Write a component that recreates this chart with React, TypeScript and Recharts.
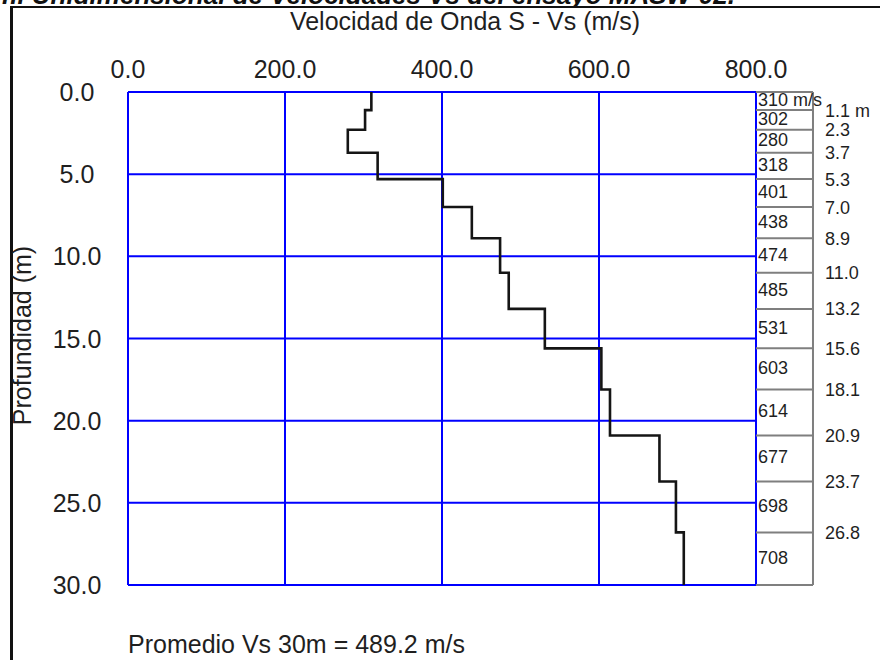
import {
  CartesianGrid,
  Label,
  ReferenceDot,
  ReferenceLine,
  Scatter,
  ScatterChart,
  XAxis,
  YAxis,
} from "recharts";

const velocityTicks = [0, 200, 400, 600, 800];
const depthTicks = [0, 5, 10, 15, 20, 25, 30];

// Vs of each layer (m/s) and depth of its base (m)
const layerVs = [310, 302, 280, 318, 401, 438, 474, 485, 531, 603, 614, 677, 698, 708];
const layerBottoms = [1.1, 2.3, 3.7, 5.3, 7.0, 8.9, 11.0, 13.2, 15.6, 18.1, 20.9, 23.7, 26.8, 30.0];
const averageVs30 = 489.2;

const FONT = '"Liberation Sans", Arial, sans-serif';
const TEXT = "#1f1f1f";
const GRID_BLUE = "#0000ff";
const BOX_GRAY = "#7f7f7f";
// right edge of the layer table, in velocity units (table sits right of 800)
const COL_RIGHT = 872.6;

const layerTops = layerVs.map((_, i) => (i === 0 ? 0 : layerBottoms[i - 1]));

const profile = layerVs.flatMap((v, i) => [
  { v, d: layerTops[i] },
  { v, d: layerBottoms[i] },
]);

function XTick({ x, y, payload }: any) {
  return (
    <text x={x} y={y} textAnchor="middle" fontSize={25} fill={TEXT} fontFamily={FONT}>
      {Number(payload.value).toFixed(1)}
    </text>
  );
}

function YTick({ x, y, payload }: any) {
  return (
    <text x={x} y={y} dy={9} textAnchor="middle" fontSize={25} fill={TEXT} fontFamily={FONT}>
      {Number(payload.value).toFixed(1)}
    </text>
  );
}

export default function App() {
  return (
    <div style={{ position: "absolute", left: 0, top: 0, width: 880, height: 660, overflow: "hidden", background: "#fff" }}>
      {/* page heading, cut off by the top edge of the picture */}
      <div style={{ position: "absolute", left: 0, top: 0, width: 880, height: 6, overflow: "hidden" }}>
        <div
          style={{
            position: "absolute",
            right: 145,
            top: -18,
            whiteSpace: "nowrap",
            fontFamily: FONT,
            fontStyle: "italic",
            fontWeight: 700,
            fontSize: 26,
            lineHeight: "26px",
            color: "#111",
          }}
        >
          Perfil Unidimensional de Velocidades Vs del ensayo MASW-02.
        </div>
      </div>
      <div
        style={{
          position: "absolute",
          left: 10,
          top: 6,
          width: 870,
          height: 652,
          borderLeft: "3px solid #111",
          borderTop: "2px solid #111",
          borderBottom: "1px solid #c8c8c8",
        }}
      />
      <div style={{ position: "absolute", left: 0, top: 0 }}>
        <ScatterChart width={880} height={660} margin={{ top: 12, right: 124, bottom: 75, left: 10 }}>
          <CartesianGrid stroke={GRID_BLUE} strokeWidth={2} />
          <XAxis
            type="number"
            dataKey="v"
            orientation="top"
            domain={[0, 800]}
            ticks={velocityTicks}
            height={80}
            axisLine={false}
            tickLine={false}
            tickSize={0}
            tickMargin={14}
            tick={<XTick />}
            interval={0}
          >
            <Label
              content={({ viewBox }: any) => (
                <text
                  x={viewBox.x + viewBox.width / 2 + 23}
                  y={viewBox.y + 18}
                  textAnchor="middle"
                  fontSize={25}
                  fill={TEXT}
                  fontFamily={FONT}
                >
                  Velocidad de Onda S - Vs (m/s)
                </text>
              )}
            />
          </XAxis>
          <YAxis
            type="number"
            dataKey="d"
            domain={[0, 30]}
            reversed
            ticks={depthTicks}
            width={118}
            axisLine={false}
            tickLine={false}
            tickSize={0}
            tickMargin={51}
            tick={<YTick />}
            interval={0}
          >
            <Label
              content={({ viewBox }: any) => {
                const cx = viewBox.x + 21;
                const cy = viewBox.y + viewBox.height / 2 - 3;
                return (
                  <text
                    x={cx}
                    y={cy}
                    transform={`rotate(-90 ${cx} ${cy})`}
                    textAnchor="middle"
                    fontSize={25}
                    fill={TEXT}
                    fontFamily={FONT}
                  >
                    Profundidad (m)
                  </text>
                );
              }}
            />
          </YAxis>

          {/* layer table on the right */}
          {[0, ...layerBottoms].map((d) => (
            <ReferenceLine
              key={`row-${d}`}
              segment={[
                { x: 800, y: d },
                { x: COL_RIGHT, y: d },
              ]}
              stroke={BOX_GRAY}
              strokeWidth={2}
              ifOverflow="visible"
            />
          ))}
          <ReferenceLine
            segment={[
              { x: COL_RIGHT, y: 0 },
              { x: COL_RIGHT, y: 30 },
            ]}
            stroke={BOX_GRAY}
            strokeWidth={2}
            ifOverflow="visible"
          />
          {layerVs.map((v, i) => (
            <ReferenceDot
              key={`vs-${i}`}
              x={800}
              y={(layerTops[i] + layerBottoms[i]) / 2}
              r={0}
              ifOverflow="visible"
              shape={(p: any) => (
                <text x={p.cx + 2} y={p.cy + 5} fontSize={18} fill={TEXT} fontFamily={FONT}>
                  {i === 0 ? `${v} m/s` : v}
                </text>
              )}
            />
          ))}
          {layerBottoms.slice(0, -1).map((d, i) => (
            <ReferenceDot
              key={`dep-${i}`}
              x={COL_RIGHT}
              y={d}
              r={0}
              ifOverflow="visible"
              shape={(p: any) => (
                <text x={p.cx + 12} y={p.cy + 6.5} fontSize={18} fill={TEXT} fontFamily={FONT}>
                  {i === 0 ? `${d.toFixed(1)} m` : d.toFixed(1)}
                </text>
              )}
            />
          ))}

          <Scatter
            data={profile}
            line={{ stroke: "#151515", strokeWidth: 2.6 }}
            lineType="joint"
            shape={() => <g />}
            isAnimationActive={false}
          />
        </ScatterChart>
      </div>
      <div
        style={{
          position: "absolute",
          left: 128,
          top: 630,
          fontFamily: FONT,
          fontSize: 25,
          lineHeight: "28px",
          color: TEXT,
          whiteSpace: "nowrap",
        }}
      >
        Promedio Vs 30m = {averageVs30.toFixed(1)} m/s
      </div>
    </div>
  );
}
